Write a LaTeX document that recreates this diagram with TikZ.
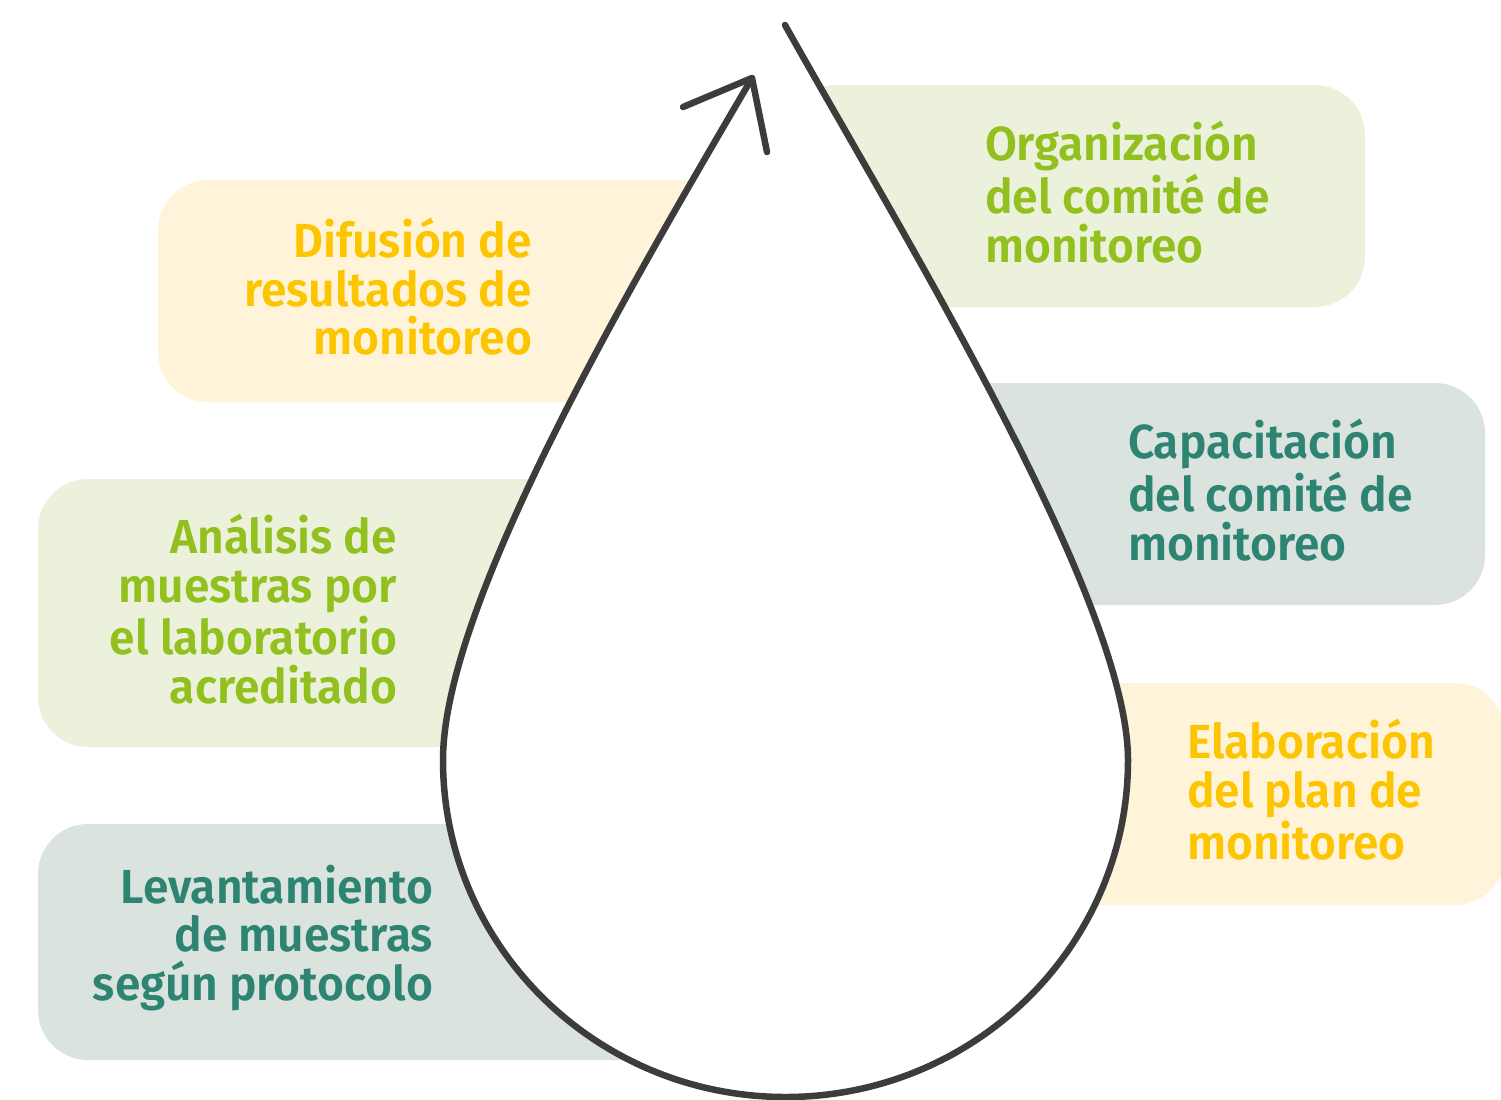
\documentclass[tikz,border=0pt]{standalone}
\usepackage{fontspec}
\setmainfont{Fira Sans}[BoldFont={Fira Sans SemiBold}, BoldFeatures={FakeStretch=0.965}]
\usepackage{tikz}
\usetikzlibrary{positioning}
\definecolor{DropInk}{HTML}{3C3C3B}
\definecolor{LeafGreen}{HTML}{92C01F}
\definecolor{LeafMist}{HTML}{ECF1DC}
\definecolor{SunYellow}{HTML}{FCC500}
\definecolor{SunMist}{HTML}{FFF3DA}
\definecolor{SeaTeal}{HTML}{2E8472}
\definecolor{SeaMist}{HTML}{DBE3DF}

\begin{document}
\begin{tikzpicture}[
  stage/.style={rounded corners=0.5cm, inner sep=0pt, minimum height=2.22cm},
  stagetext/.style={inner sep=0pt, yshift=0.04cm, font=\bfseries\fontsize{13.6pt}{13.8pt}\selectfont},
  outline/.style={draw=DropInk, line width=1.85pt, line cap=round, line join=round}
]
\useasboundingbox (0,0) rectangle (15.01,-10.99);

% left column
\node[stage, fill=SunMist, minimum width=6.28cm] (difusion) at (4.72,-2.91) {};
\node[stage, fill=LeafMist, minimum width=7.48cm, minimum height=2.68cm] (analisis) at (4.12,-6.13) {};
\node[stage, fill=SeaMist, minimum width=7.48cm, minimum height=2.36cm] (levantamiento) at (4.12,-9.42) {};
% right column
\node[stage, fill=LeafMist, minimum width=5.79cm] (organizacion) at (10.755,-1.96) {};
\node[stage, fill=SeaMist, minimum width=6.99cm] (capacitacion) at (11.355,-4.94) {};
\node[stage, fill=SunMist, minimum width=7.19cm] (elaboracion) at (11.455,-7.94) {};

% the drop
\coordinate (tip) at (7.85,-0.25);
\coordinate (head) at (7.52,-0.78);
\coordinate (leftside) at (4.43,-7.60);
\fill[white] (head) .. controls (6.40,-2.70) and (4.43,-6.00) .. (leftside)
  arc[start angle=180, end angle=360, x radius=3.425cm, y radius=3.37cm]
  .. controls (11.28,-6.00) and (9.00,-2.30) .. (tip) -- cycle;
\draw[outline] (head) .. controls (6.40,-2.70) and (4.43,-6.00) .. (leftside)
  arc[start angle=180, end angle=360, x radius=3.425cm, y radius=3.37cm]
  .. controls (11.28,-6.00) and (9.00,-2.30) .. (tip);
\draw[outline] (6.83,-1.07) -- (head) -- (7.67,-1.52);

% texts
\node[stagetext, text=SunYellow, align=right, left=2.54cm of difusion.east] (difusiontxt)
  {Difusión de\\resultados de\\monitoreo};
\node[stagetext, text=LeafGreen, align=right, left=3.89cm of analisis.east] (analisistxt)
  {Análisis de\\muestras por\\el laboratorio\\acreditado};
\node[stagetext, text=SeaTeal, align=right, left=3.53cm of levantamiento.east] (levantamientotxt)
  {Levantamiento\\de muestras\\según protocolo};
\node[stagetext, text=LeafGreen, align=left, right=1.99cm of organizacion.west] (organizaciontxt)
  {Organización\\del comité de\\monitoreo};
\node[stagetext, text=SeaTeal, align=left, right=3.42cm of capacitacion.west] (capacitaciontxt)
  {Capacitación\\del comité de\\monitoreo};
\node[stagetext, text=SunYellow, align=left, right=4.01cm of elaboracion.west] (elaboraciontxt)
  {Elaboración\\del plan de\\monitoreo};
\end{tikzpicture}
\end{document}
